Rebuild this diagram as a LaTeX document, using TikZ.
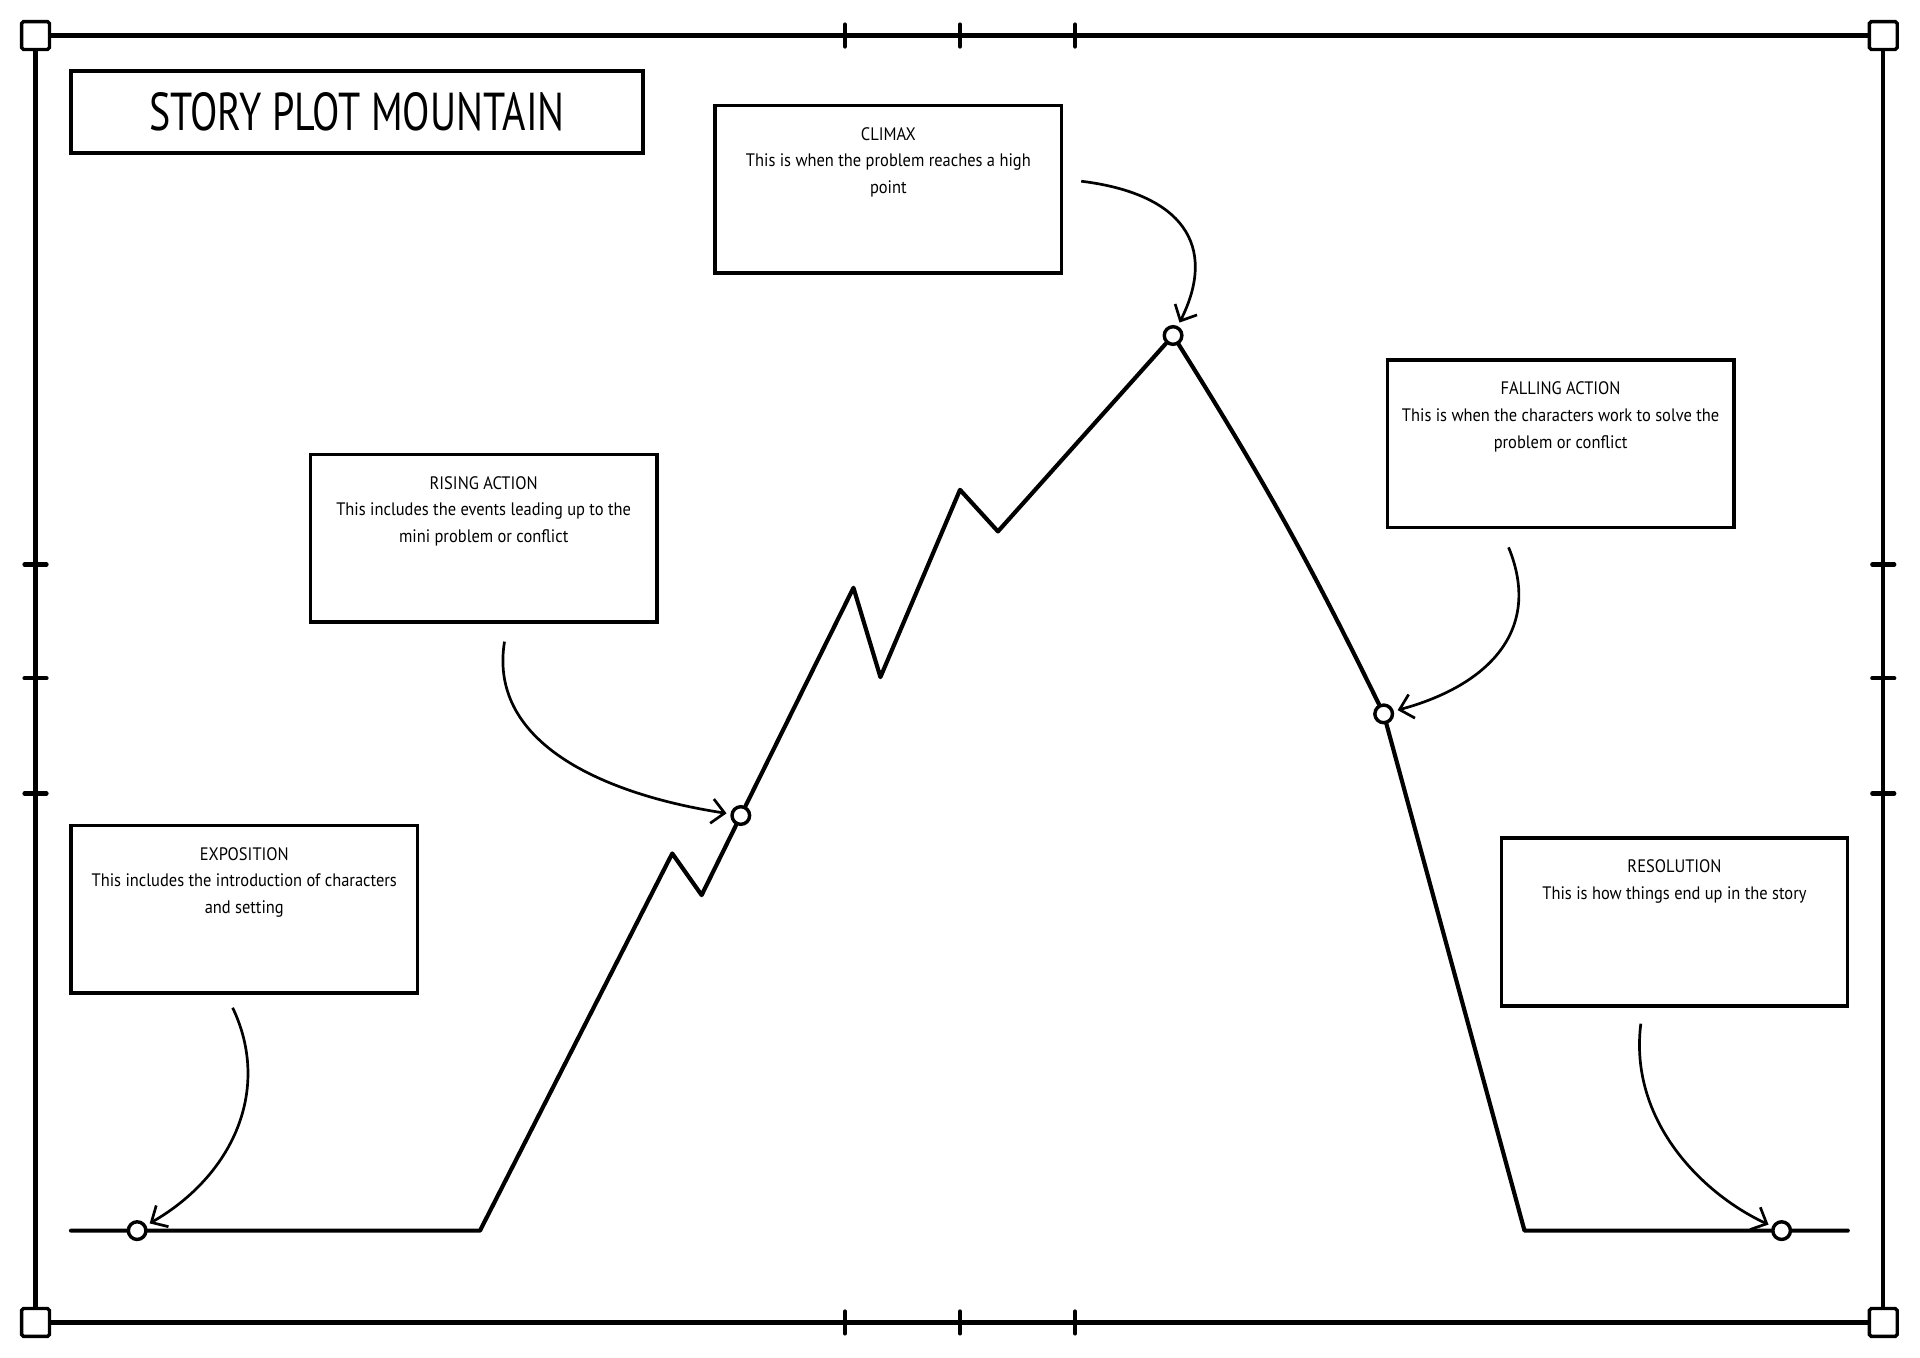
\documentclass[tikz,border=0pt]{standalone}
\usepackage{fontspec}
\setmainfont{PT Sans}[FakeStretch=0.91]
\newfontfamily\titlefont{PT Sans}[FakeStretch=0.75]
\usetikzlibrary{positioning,arrows.meta}

\tikzset{
  plotline/.style={line width=0.85mm, line join=round, line cap=round},
  plotbox/.style={draw, line width=0.7mm, minimum width=70.75mm, minimum height=34.25mm, inner sep=0},
  plottext/.style={align=center, inner sep=0, font=\fontsize{10.5}{15.5}\selectfont},
  plotdot/.style={circle, draw, fill=white, line width=0.7mm, minimum size=3.6mm, inner sep=0},
  corner/.style={draw, fill=white, line width=0.7mm, minimum size=5.7mm, inner sep=0, rounded corners=0.4mm},
  pointer/.style={>={Straight Barb[length=2.6mm,width=5mm]}, ->, line width=0.55mm, shorten >=0.8mm},
}

\begin{document}
\begin{tikzpicture}[x=0.25mm, y=-0.25mm]
  \useasboundingbox (0,0) rectangle (1568,1109);

  % frame with ticks
  \draw[plotline] (29,29) rectangle (1538,1080);
  \foreach \x in {690,784,878} {
    \draw[plotline] (\x,20) -- (\x,38);
    \draw[plotline] (\x,1071) -- (\x,1089);
  }
  \foreach \y in {461,554,648} {
    \draw[plotline] (20,\y) -- (38,\y);
    \draw[plotline] (1529,\y) -- (1547,\y);
  }
  \foreach \x/\y [count=\i] in {29/29,1538/29,29/1080,1538/1080} {
    \node[corner] (corner\i) at (\x,\y) {};
  }

  % title
  \node[draw, line width=0.7mm, minimum width=116.75mm, minimum height=16.75mm, inner sep=0,
        font=\titlefont\fontsize{31}{31}\selectfont] (title) at (291.5,91.5) {STORY PLOT MOUNTAIN};

  % boxes
  \node[plotbox] (climax) at (725.5,154.5) {};
  \node[plottext, below=4.75mm of climax.north] (climaxtext)
    {CLIMAX\\This is when the problem reaches a high\\point};
  \node[plotbox] (rising) at (395,439.5) {};
  \node[plottext, below=4.75mm of rising.north] (risingtext)
    {RISING ACTION\\This includes the events leading up to the\\mini problem or conflict};
  \node[plotbox] (falling) at (1274.5,362.5) {};
  \node[plottext, below=4.75mm of falling.north] (fallingtext)
    {FALLING ACTION\\This is when the characters work to solve the\\problem or conflict};
  \node[plotbox] (expo) at (199.5,742.5) {};
  \node[plottext, below=4.75mm of expo.north] (expotext)
    {EXPOSITION\\This includes the introduction of characters\\and setting};
  \node[plotbox] (resol) at (1367.5,753) {};
  \node[plottext, below=4.75mm of resol.north] (resoltext)
    {RESOLUTION\\This is how things end up in the story};

  % points on the mountain
  \node[plotdot] (expodot) at (112,1005) {};
  \node[plotdot] (risingdot) at (605,666) {};
  \node[plotdot] (climaxdot) at (958,274) {};
  \node[plotdot] (fallingdot) at (1130,583) {};
  \node[plotdot] (resoldot) at (1455,1005) {};

  % the mountain
  \draw[plotline] (58,1005) -- (expodot) -- (392,1005) -- (549,697) -- (573,731) -- (risingdot)
    -- (697,480) -- (719,553) -- (784,400) -- (815,434) -- (climaxdot);
  \draw[plotline] (climaxdot) to[bend left=3] (fallingdot);
  \draw[plotline] (fallingdot) -- (1245,1005) -- (resoldot) -- (1509,1005);

  % pointers
  \coordinate (expostart) at (190,823);
  \coordinate (risingstart) at (412,524);
  \coordinate (climaxstart) at (883,148);
  \coordinate (fallingstart) at (1232,447);
  \coordinate (resolstart) at (1340,836);
  \draw[pointer] (expostart) .. controls (222,890) and (190,960) .. (expodot);
  \draw[pointer] (risingstart) .. controls (398,610) and (500,650) .. (risingdot);
  \draw[pointer] (climaxstart) .. controls (965,158) and (995,200) .. (climaxdot);
  \draw[pointer] (fallingstart) .. controls (1260,515) and (1215,560) .. (fallingdot);
  \draw[pointer] (resolstart) .. controls (1330,915) and (1390,975) .. (resoldot);
\end{tikzpicture}
\end{document}
